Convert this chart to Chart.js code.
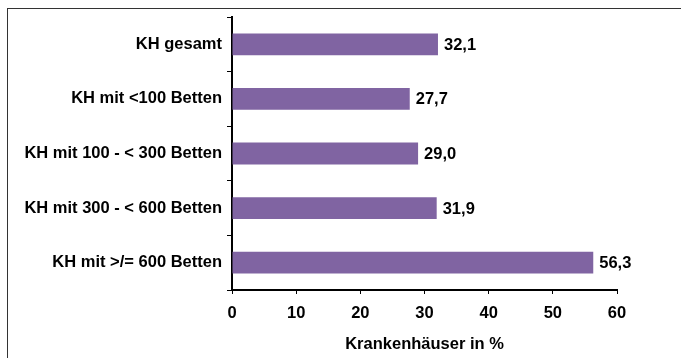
<!DOCTYPE html>
<html>
<head>
<meta charset="utf-8">
<script src="https://cdn.jsdelivr.net/npm/chart.js@4"></script>
<style>
  html, body { margin: 0; padding: 0; background: #fff; overflow: hidden; width: 681px; height: 358px; }
  #frame { position: absolute; left: 7px; top: 8px; width: 674px; height: 350px; border-left: 1px solid #333; border-top: 1px solid #333; box-sizing: border-box; }
  #wrap { position: absolute; left: 0; top: 0; width: 681px; height: 358px; }
</style>
</head>
<body>
<div id="frame"></div>
<div id="wrap"><canvas id="chart"></canvas></div>
<script>
const categories = ['KH gesamt', 'KH mit <100 Betten', 'KH mit 100 - < 300 Betten', 'KH mit 300 - < 600 Betten', 'KH mit >/= 600 Betten'];
const values = [32.1, 27.7, 29.0, 31.9, 56.3];
const xTicks = [0, 10, 20, 30, 40, 50, 60];

const font = { family: '"Liberation Sans", Arial, sans-serif', size: 16.5, weight: 'bold' };

// value labels to the right of each bar
const valueLabels = {
    id: 'valueLabels',
    afterDatasetsDraw(chart) {
        const ctx = chart.ctx;
        const meta = chart.getDatasetMeta(0);
        ctx.save();
        ctx.font = 'bold 16.5px "Liberation Sans", Arial, sans-serif';
        ctx.fillStyle = '#000';
        ctx.textAlign = 'left';
        ctx.textBaseline = 'middle';
        meta.data.forEach(function(bar, i) {
            ctx.fillText(values[i].toFixed(1).replace('.', ','), bar.x + 6, bar.y + 1);
        });
        ctx.restore();
    }
};

new Chart(document.getElementById('chart'), {
    type: 'bar',
    data: {
        labels: categories,
        datasets: [{
            data: values,
            backgroundColor: '#8064A2',
            borderWidth: 0,
            barPercentage: 0.4,
            categoryPercentage: 1.0
        }]
    },
    options: {
        indexAxis: 'y',
        responsive: true,
        maintainAspectRatio: false,
        animation: false,
        layout: { padding: { top: 17, right: 64, left: 0, bottom: 0 } },
        plugins: { legend: { display: false }, tooltip: { enabled: false } },
        scales: {
            x: {
                min: 0,
                max: 60,
                afterBuildTicks: function(scale) { scale.ticks = xTicks.map(v => ({ value: v })); },
                afterFit: function(scale) { scale.height = 68; },
                grid: { drawOnChartArea: false, color: '#000', tickLength: 4, tickColor: '#000' },
                border: { color: '#000', width: 2 },
                ticks: { color: '#000', font: font, padding: 10 },
                title: { display: true, text: 'Krankenhäuser in %', color: '#000', font: font, padding: { top: 4, bottom: 4 } }
            },
            y: {
                afterFit: function(scale) { scale.width = 232; },
                grid: { drawOnChartArea: false, offset: true, color: '#000', tickLength: 5, tickColor: '#000' },
                border: { color: '#000', width: 2 },
                ticks: { color: '#000', font: font, padding: 5 }
            }
        }
    },
    plugins: [valueLabels]
});
</script>
</body>
</html>
